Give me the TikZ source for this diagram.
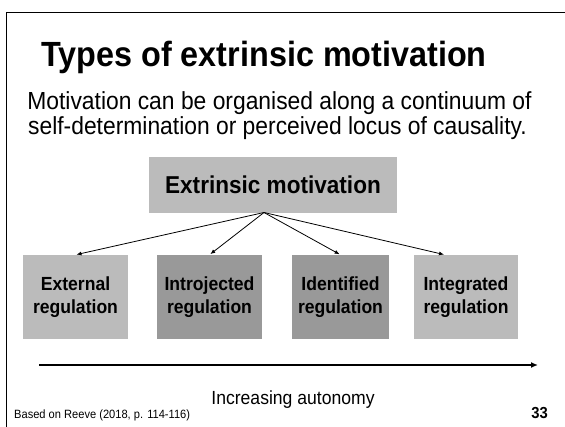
\documentclass[tikz,border=0pt]{standalone}
\usepackage{fontspec}
\setmainfont{Liberation Sans}[FakeStretch=0.925]
\usetikzlibrary{arrows.meta,calc}

\definecolor{lightbox}{RGB}{187,187,187}
\definecolor{darkbox}{RGB}{153,153,153}

\begin{document}
\begin{tikzpicture}[x=1pt,y=-1pt,
  titletext/.style={anchor=base,font=\bfseries\fontsize{35}{42}\selectfont},
  bodytext/.style={anchor=base,font=\fontsize{24.7}{28}\selectfont},
  headbox/.style={fill=lightbox,inner sep=0pt,minimum width=248pt,minimum height=56pt,
    font=\bfseries\fontsize{24.4}{28}\selectfont},
  typebox/.style={inner sep=0pt,minimum height=84pt,align=center,
    font=\bfseries\fontsize{19}{23}\selectfont},
  conn/.style={line width=0.8pt,-{Latex[length=5pt,width=4pt]},shorten >=1pt},
  axisarrow/.style={line width=2.2pt,-{Latex[length=7pt,width=6pt]}},
  smalltext/.style={anchor=base west,inner sep=0pt,font=\fontsize{12}{14}\selectfont}]

  \useasboundingbox (0,0) rectangle (565,427);

  % slide frame (top and left edges)
  \draw[line width=1.5pt] (6.5,427) -- (6.5,12.5) -- (565,12.5);

  % heading and lead text
  \node[titletext] (title) at (264,67) {Types of extrinsic motivation};
  \node[bodytext] (sub1) at (279.5,110) {Motivation can be organised along a continuum of};
  \node[bodytext] (sub2) at (277.5,135) {self-determination or perceived locus of causality.};

  % parent category
  \node[headbox] (ext) at (273,185) {Extrinsic motivation};
  \coordinate (hub) at (264,212.5);

  % four regulation types
  \node[typebox,fill=lightbox,minimum width=105pt] (b1) at (75.5,297) {External\\regulation};
  \node[typebox,fill=darkbox,minimum width=105pt] (b2) at (209.5,297) {Introjected\\regulation};
  \node[typebox,fill=darkbox,minimum width=97pt] (b3) at (340.5,297) {Identified\\regulation};
  \node[typebox,fill=lightbox,minimum width=104pt] (b4) at (466,297) {Integrated\\regulation};

  \draw[conn] (hub) -- (b1.north);
  \draw[conn] (hub) -- (b2.north);
  \draw[conn] (hub) -- (b3.north);
  \draw[conn] (hub) -- ($(b4.north)+(-21,0)$);

  % autonomy axis
  \coordinate (axisL) at (39,365);
  \coordinate (axisR) at (538,365);
  \draw[axisarrow] (axisL) -- (axisR);
  \node[anchor=base,font=\fontsize{19}{22}\selectfont] (autonomy) at (293,405) {Increasing autonomy};

  % footer
  \node[smalltext] (source) at (14,418) {Based on Reeve (2018, p. 114-116)};
  \node[anchor=base east,inner sep=0pt,font=\bfseries\fontsize{16}{19}\selectfont] (page) at (548,419) {33};
\end{tikzpicture}
\end{document}
